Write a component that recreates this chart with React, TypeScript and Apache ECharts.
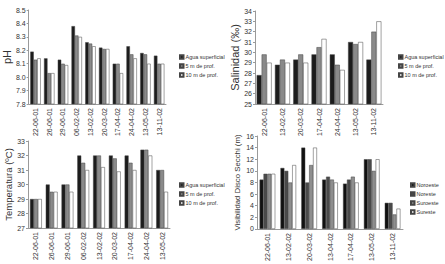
import React, { useEffect, useRef } from "react";
import * as echarts from "echarts";

const phDates = ["22-06-01", "26-06-01", "29-06-01", "06-02-02", "13-02-02", "20-03-02", "17-04-02", "24-04-02", "13-05-02", "13-11-02"];
const phSurface = [8.19, 8.14, 8.13, 8.38, 8.26, 8.22, 8.10, 8.23, 8.18, 8.16];
const ph5m = [8.13, 8.03, 8.10, 8.31, 8.25, 8.21, 8.10, 8.17, 8.17, 8.10];
const ph10m = [8.14, 8.03, 8.09, 8.30, 8.23, 8.21, 8.03, 8.14, 8.10, 8.10];

const salDates = ["22-06-01", "13-02-02", "20-03-02", "17-04-02", "24-04-02", "13-05-02", "13-11-02"];
const salSurface = [27.8, 28.8, 29.3, 29.8, 29.8, 31.0, 29.3];
const sal5m = [29.8, 29.3, 29.8, 30.5, 28.8, 30.8, 32.0];
const sal10m = [29.0, 29.0, 29.0, 31.3, 28.3, 31.0, 33.0];

const tempDates = ["22-06-01", "26-06-01", "29-06-01", "06-02-02", "13-02-02", "20-03-02", "17-04-02", "24-04-02", "13-05-02"];
const tempSurface = [29.0, 30.0, 30.0, 32.0, 32.0, 32.0, 32.0, 32.4, 31.0];
const temp5m = [29.0, 29.5, 30.0, 31.5, 32.0, 31.8, 31.5, 32.4, 31.0];
const temp10m = [29.0, 29.5, 29.5, 31.0, 31.2, 30.9, 31.0, 32.0, 29.5];

const visDates = ["22-06-01", "13-02-02", "20-03-02", "13-04-02", "17-04-02", "13-05-02", "13-11-02"];
const visNoroeste = [8.5, 10.5, 14.0, 8.5, 7.8, 12.0, 4.5];
const visNoreste = [9.5, 10.0, 8.0, 9.0, 8.5, 12.0, 4.5];
const visSuroeste = [9.5, 8.0, 11.0, 8.5, 9.0, 10.0, 2.5];
const visSureste = [9.5, 11.0, 14.0, 8.0, 8.0, 12.0, 3.5];

const depthNames = ["Agua superficial", "5 m de prof.", "10 m de prof."];
const visNames = ["Noroeste", "Noreste", "Suroeste", "Sureste"];

const FONT = "Liberation Sans";
const AXIS_COLOR = "#9a9a9a";
const TEXT_COLOR = "#333";

export default function App() {
  const ref = useRef<HTMLDivElement>(null);
  useEffect(() => {
    if (!ref.current) return;
    const chart = echarts.init(ref.current, undefined, { renderer: "svg" });

    const grids = [
      { left: 28, top: 10, width: 138, height: 94 },
      { left: 255, top: 11, width: 128, height: 93 },
      { left: 28, top: 141, width: 142, height: 87 },
      { left: 257, top: 136, width: 146, height: 93 },
    ];
    const cats = [phDates, salDates, tempDates, visDates];
    const xAxis = cats.map((c, i) => ({
      type: "category",
      gridIndex: i,
      data: c,
      axisLine: { lineStyle: { color: AXIS_COLOR, width: 1 } },
      axisTick: { length: 2, lineStyle: { color: AXIS_COLOR } },
      axisLabel: { rotate: 90, fontSize: 7, color: TEXT_COLOR, fontFamily: FONT, margin: 4 },
    }));
    const yDefs = [
      { min: 7.8, max: 8.5, interval: 0.1, name: "pH", gap: 15, size: 11, fmt: (v: number) => v.toFixed(1) },
      { min: 25, max: 34, interval: 1, name: "Salinidad (‰)", gap: 14, size: 11, fmt: (v: number) => String(v) },
      { min: 27, max: 33, interval: 1, name: "Temperatura (ºC)", gap: 15, size: 9.5, fmt: (v: number) => String(v) },
      { min: 0, max: 16, interval: 2, name: "Visibilidad Disco Secchi (m)", gap: 16, size: 7.8, fmt: (v: number) => String(v) },
    ];
    const yAxis = yDefs.map((d, i) => ({
      type: "value",
      gridIndex: i,
      min: d.min,
      max: d.max,
      interval: d.interval,
      name: d.name,
      nameLocation: "middle",
      nameRotate: 90,
      nameGap: d.gap,
      nameTextStyle: { fontSize: d.size, color: TEXT_COLOR, fontFamily: FONT },
      splitLine: { show: false },
      axisLine: { show: true, lineStyle: { color: AXIS_COLOR } },
      axisTick: { show: true, length: 2, lineStyle: { color: AXIS_COLOR } },
      axisLabel: { fontSize: 7, color: TEXT_COLOR, fontFamily: FONT, margin: 3, formatter: d.fmt },
    }));

    const depthColors = ["#1c1c1c", "#8a8a8a", "#ffffff"];
    const visColors = ["#111111", "#4a4a4a", "#8e8e8e", "#ffffff"];

    const mk = (name: string, data: number[], idx: number, color: string, gap: string) => ({
      type: "bar",
      name,
      data,
      xAxisIndex: idx,
      yAxisIndex: idx,
      barGap: "0%",
      barCategoryGap: gap,
      itemStyle: { color, borderColor: "#444", borderWidth: 0.5 },
    });

    const series = [
      mk(depthNames[0], phSurface, 0, depthColors[0], "24%"),
      mk(depthNames[1], ph5m, 0, depthColors[1], "24%"),
      mk(depthNames[2], ph10m, 0, depthColors[2], "24%"),
      mk(depthNames[0], salSurface, 1, depthColors[0], "18%"),
      mk(depthNames[1], sal5m, 1, depthColors[1], "18%"),
      mk(depthNames[2], sal10m, 1, depthColors[2], "18%"),
      mk(depthNames[0], tempSurface, 2, depthColors[0], "25%"),
      mk(depthNames[1], temp5m, 2, depthColors[1], "25%"),
      mk(depthNames[2], temp10m, 2, depthColors[2], "25%"),
      mk(visNames[0], visNoroeste, 3, visColors[0], "25%"),
      mk(visNames[1], visNoreste, 3, visColors[1], "25%"),
      mk(visNames[2], visSuroeste, 3, visColors[2], "25%"),
      mk(visNames[3], visSureste, 3, visColors[3], "25%"),
    ];

    const legendBase = {
      orient: "vertical",
      itemWidth: 3.5,
      itemHeight: 3.5,
      itemGap: 3,
      icon: "rect",
      selectedMode: false,
      textStyle: { fontSize: 5.5, color: TEXT_COLOR, fontFamily: FONT, padding: [0, 0, 0, -3] },
      padding: 0,
    };
    const legend = [
      { ...legendBase, left: 179, top: 54, data: depthNames },
      { ...legendBase, left: 398, top: 54, data: depthNames },
      { ...legendBase, left: 179, top: 182, data: depthNames },
      { ...legendBase, left: 410, top: 182, data: visNames },
    ];

    chart.setOption({
      animation: false,
      backgroundColor: "#ffffff",
      grid: grids,
      xAxis,
      yAxis,
      legend,
      series,
    });
    return () => chart.dispose();
  }, []);
  return (
    <div
      ref={ref}
      style={{ position: "fixed", left: 0, top: 0, width: 445, height: 264 }}
    />
  );
}
